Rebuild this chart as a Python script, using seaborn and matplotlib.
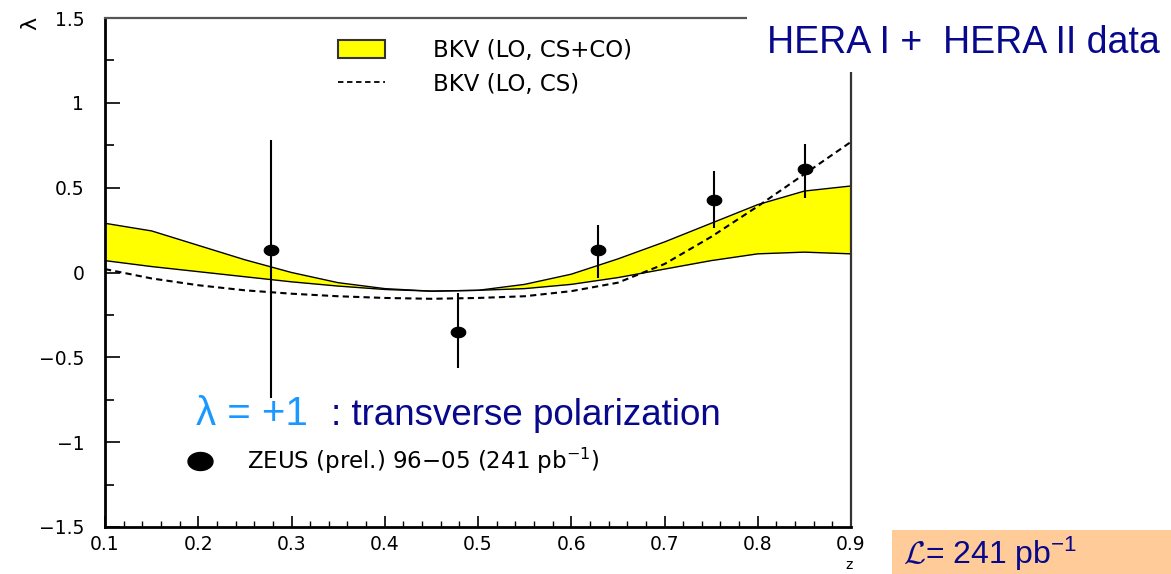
import numpy as np
import matplotlib
matplotlib.use("Agg")
import matplotlib.pyplot as plt
from matplotlib.patches import Patch, Rectangle
from matplotlib.lines import Line2D
from matplotlib.path import Path
from matplotlib.ticker import MultipleLocator
import seaborn as sns

# BKV predictions for the polarisation parameter lambda versus z
z_theory = [0.10, 0.15, 0.20, 0.25, 0.30, 0.35, 0.40, 0.45, 0.50,
            0.55, 0.60, 0.65, 0.70, 0.75, 0.80, 0.85, 0.90]
cs_co_upper = [0.29, 0.245, 0.16, 0.075, 0.00, -0.06, -0.095, -0.11, -0.105,
               -0.07, -0.01, 0.08, 0.18, 0.29, 0.40, 0.48, 0.51]
cs_co_lower = [0.07, 0.035, 0.005, -0.025, -0.055, -0.08, -0.10, -0.11, -0.105,
               -0.095, -0.07, -0.03, 0.02, 0.07, 0.11, 0.12, 0.11]
cs_only = [0.02, -0.035, -0.075, -0.105, -0.125, -0.14, -0.15, -0.155, -0.15,
           -0.14, -0.11, -0.06, 0.05, 0.21, 0.39, 0.58, 0.77]

# ZEUS measurement
z_data = [0.278, 0.479, 0.629, 0.753, 0.851]
lam_data = [0.13, -0.35, 0.13, 0.43, 0.61]
lam_err_lo = [0.87, 0.21, 0.16, 0.17, 0.17]
lam_err_hi = [0.65, 0.23, 0.15, 0.17, 0.15]

x_ticks = [0.1, 0.2, 0.3, 0.4, 0.5, 0.6, 0.7, 0.8, 0.9]
y_ticks = [-1.5, -1.0, -0.5, 0.0, 0.5, 1.0, 1.5]

NAVY = "#08088c"
SKY = "#1a98ff"
W, H = 1171, 574


def fx(px):
    return px / W


def fy(py):
    return 1 - py / H


sns.set_style("ticks")
plt.rcParams["font.family"] = ["DejaVu Sans"]
plt.rcParams["mathtext.default"] = "regular"
plt.rcParams["text.color"] = "black"
plt.rcParams["xtick.labelcolor"] = "black"
plt.rcParams["ytick.labelcolor"] = "black"

fig = plt.figure(figsize=(W / 100, H / 100), dpi=100)
fig.patch.set_facecolor("white")
ax = fig.add_axes([fx(105), fy(527), (851 - 105) / W, (527 - 18) / H])
ax.set_facecolor("white")

# CS+CO band
ax.fill_between(z_theory, cs_co_lower, cs_co_upper, color="#ffff00",
                linewidth=0, zorder=1)
sns.lineplot(x=z_theory, y=cs_co_upper, ax=ax, color="black", lw=1.0, zorder=2)
sns.lineplot(x=z_theory, y=cs_co_lower, ax=ax, color="black", lw=1.0, zorder=2)
# CS only
sns.lineplot(x=z_theory, y=cs_only, ax=ax, color="black", lw=1.5,
             linestyle=(0, (3, 2)), zorder=3)

# slightly flattened dot used for the data points
t = np.linspace(0, 2 * np.pi, 40)
ell = Path(np.column_stack([np.cos(t), 0.72 * np.sin(t)]), closed=True)

ax.errorbar(z_data, lam_data, yerr=[lam_err_lo, lam_err_hi], fmt="none",
            ecolor="black", elinewidth=1.5, capsize=0, zorder=4)
sns.scatterplot(x=z_data, y=lam_data, ax=ax, marker=ell, s=110,
                color="black", edgecolor="black", zorder=5)

ax.set_xlim(0.1, 0.9)
ax.set_ylim(-1.5, 1.5)
ax.set_xticks(x_ticks)
ax.set_xticklabels([f"{v:.1f}" for v in x_ticks])
ax.set_yticks(y_ticks)
ax.set_yticklabels(["\u22121.5", "\u22121", "\u22120.5", "0", "0.5", "1", "1.5"])
ax.xaxis.set_minor_locator(MultipleLocator(0.02))
ax.yaxis.set_minor_locator(MultipleLocator(0.25))
ax.tick_params(axis="x", which="major", direction="in", length=8, width=1.2,
               labelsize=13.5, pad=6, color="black", labelcolor="black")
ax.tick_params(axis="x", which="minor", direction="in", length=4, width=1.0,
               color="black")
ax.tick_params(axis="y", which="major", direction="in", length=11, width=1.2,
               labelsize=13.5, pad=15, color="black", labelcolor="black")
ax.tick_params(axis="y", which="minor", direction="in", length=6.5, width=1.2,
               color="black")
ax.tick_params(top=False, right=False, which="both")

for side in ["left", "bottom"]:
    ax.spines[side].set_color("black")
    ax.spines[side].set_linewidth(2.0)
ax.spines["top"].set_color("#555555")
ax.spines["top"].set_linewidth(1.6)
ax.spines["right"].set_color("#333333")
ax.spines["right"].set_linewidth(1.6)

ax.set_xlabel("z", fontsize=10, color="black")
ax.xaxis.set_label_coords((849 - 105) / 746, -(558 - 527) / 509)
ax.set_ylabel("")
fig.text(fx(30), fy(23), "\u03bb", rotation=90, ha="center", va="center",
         fontsize=16, color="black")

# theory legend
h_band = Patch(facecolor="#ffff00", edgecolor="#333333", linewidth=1.5)
h_cs = Line2D([], [], color="black", lw=1.3, linestyle=(0, (3, 2)))
fs = 16.5
fs_px = fs * 100 / 72
leg1 = ax.legend([h_band, h_cs], ["BKV (LO, CS+CO)", "BKV (LO, CS)"],
                 loc="upper left", bbox_to_anchor=(fx(338), fy(39)),
                 bbox_transform=fig.transFigure, frameon=False, fontsize=fs,
                 borderpad=0, borderaxespad=0, labelcolor="black",
                 handlelength=47 / fs_px, handleheight=20 / fs_px,
                 handletextpad=48 / fs_px, labelspacing=11 / fs_px)
ax.add_artist(leg1)

# data legend
h_data = Line2D([], [], linestyle="none", marker=ell, markersize=18,
                color="black")
leg2 = ax.legend([h_data], [r"ZEUS (prel.) 96$-$05 (241 pb$^{-1}$)"],
                 loc="center left", bbox_to_anchor=(fx(186), fy(461)),
                 bbox_transform=fig.transFigure, frameon=False, fontsize=fs,
                 borderpad=0, borderaxespad=0, labelcolor="black",
                 handlelength=28 / fs_px, handletextpad=33 / fs_px)

# polarisation caption
fig.text(fx(196), fy(425), "\u03bb = +1", fontsize=29, color=SKY,
         family=["Liberation Sans", "DejaVu Sans"], va="baseline", ha="left")
fig.text(fx(331), fy(425), ": transverse polarization", fontsize=26.5,
         color=NAVY, family=["Liberation Sans", "DejaVu Sans"],
         va="baseline", ha="left")

# header box over the top-right corner of the frame
fig.add_artist(Rectangle((fx(747), fy(72)), 1 - fx(747), 72 / H,
                         transform=fig.transFigure, facecolor="white",
                         edgecolor="none", zorder=10))
fig.text(fx(767), fy(53), "HERA I +  HERA II data", fontsize=27, color=NAVY,
         family=["Liberation Sans", "DejaVu Sans"], va="baseline", ha="left",
         zorder=11)

# luminosity box
fig.add_artist(Rectangle((fx(892), 0), 1 - fx(892), 44 / H,
                         transform=fig.transFigure, facecolor="#ffcc99",
                         edgecolor="none", zorder=10))
fig.text(fx(903), fy(564), r"$\mathcal{L}$= 241 pb$^{-1}$", fontsize=23,
         color=NAVY, family=["Liberation Sans", "DejaVu Sans"],
         math_fontfamily="cm", va="baseline", ha="left", zorder=11)

fig.savefig("out.png", dpi=100)
